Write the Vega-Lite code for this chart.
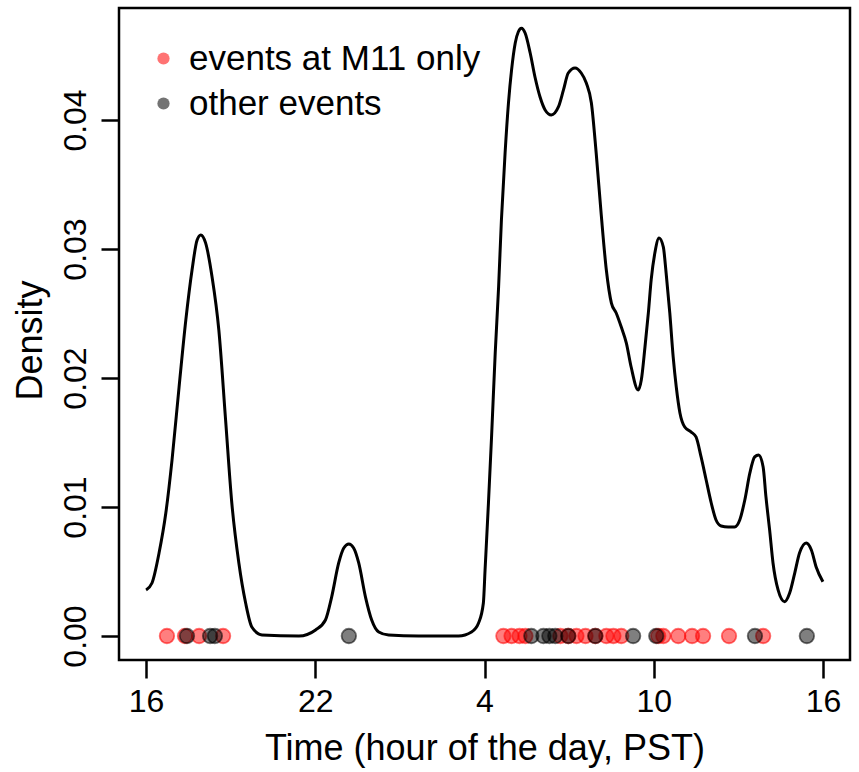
{
  "$schema": "https://vega.github.io/schema/vega-lite/v6.json",
  "autosize": {"type": "none"},
  "width": 731,
  "height": 652,
  "padding": {"left": 119, "top": 8, "right": 9, "bottom": 112},
  "background": "white",
  "config": {
    "view": {"stroke": "black", "strokeWidth": 2.5},
    "font": "Liberation Sans",
    "axis": {
      "grid": false,
      "domain": false,
      "tickColor": "black",
      "tickWidth": 2.5,
      "tickSize": 18,
      "labelColor": "black",
      "titleColor": "black",
      "labelFont": "Liberation Sans",
      "titleFont": "Liberation Sans",
      "labelFontSize": 32,
      "titleFontSize": 36,
      "titleFontWeight": "normal"
    }
  },
  "datasets": {
    "curve": [
      {"h": 0.0, "d": 0.00357}, {"h": 0.21, "d": 0.00411}, {"h": 0.46, "d": 0.00643}, {"h": 0.70, "d": 0.00953},
      {"h": 0.92, "d": 0.01364}, {"h": 1.17, "d": 0.0193}, {"h": 1.41, "d": 0.0245}, {"h": 1.63, "d": 0.02837},
      {"h": 1.81, "d": 0.0307}, {"h": 1.94, "d": 0.03109}, {"h": 2.11, "d": 0.03047}, {"h": 2.34, "d": 0.02783},
      {"h": 2.58, "d": 0.02372}, {"h": 2.82, "d": 0.01674}, {"h": 3.04, "d": 0.01031}, {"h": 3.29, "d": 0.00566},
      {"h": 3.53, "d": 0.00256}, {"h": 3.75, "d": 0.0007}, {"h": 4.11, "d": 0.00008}, {"h": 5.42, "d": 0.0},
      {"h": 6.01, "d": 0.00047}, {"h": 6.36, "d": 0.00124}, {"h": 6.58, "d": 0.00302}, {"h": 6.83, "d": 0.00566},
      {"h": 7.01, "d": 0.00682}, {"h": 7.19, "d": 0.00713}, {"h": 7.36, "d": 0.00682}, {"h": 7.54, "d": 0.00566},
      {"h": 7.78, "d": 0.00302}, {"h": 8.0, "d": 0.00124}, {"h": 8.25, "d": 0.00031}, {"h": 8.6, "d": 0.00008},
      {"h": 9.66, "d": 0.0}, {"h": 11.08, "d": 0.0}, {"h": 11.54, "d": 0.00031}, {"h": 11.79, "d": 0.00101},
      {"h": 11.96, "d": 0.00256}, {"h": 12.02, "d": 0.00512}, {"h": 12.14, "d": 0.01031}, {"h": 12.25, "d": 0.01543},
      {"h": 12.38, "d": 0.02194}, {"h": 12.5, "d": 0.02705}, {"h": 12.6, "d": 0.03225}, {"h": 12.73, "d": 0.03744},
      {"h": 12.85, "d": 0.04132}, {"h": 12.96, "d": 0.04388}, {"h": 13.09, "d": 0.04597}, {"h": 13.2, "d": 0.04684},
      {"h": 13.31, "d": 0.04711}, {"h": 13.44, "d": 0.04674}, {"h": 13.62, "d": 0.04519}, {"h": 13.79, "d": 0.04333},
      {"h": 13.97, "d": 0.04178}, {"h": 14.15, "d": 0.04078}, {"h": 14.37, "d": 0.04039}, {"h": 14.62, "d": 0.04101},
      {"h": 14.8, "d": 0.04233}, {"h": 14.97, "d": 0.04364}, {"h": 15.21, "d": 0.04403}, {"h": 15.43, "d": 0.04364},
      {"h": 15.61, "d": 0.04287}, {"h": 15.79, "d": 0.04132}, {"h": 15.96, "d": 0.03744}, {"h": 16.14, "d": 0.03264},
      {"h": 16.32, "d": 0.02837}, {"h": 16.5, "d": 0.02581}, {"h": 16.67, "d": 0.02504}, {"h": 16.85, "d": 0.02395},
      {"h": 17.03, "d": 0.02271}, {"h": 17.2, "d": 0.02085}, {"h": 17.45, "d": 0.01907}, {"h": 17.56, "d": 0.01984},
      {"h": 17.69, "d": 0.0224}, {"h": 17.81, "d": 0.02504}, {"h": 17.91, "d": 0.0276}, {"h": 18.04, "d": 0.02969},
      {"h": 18.19, "d": 0.03085}, {"h": 18.34, "d": 0.03016}, {"h": 18.44, "d": 0.02814}, {"h": 18.57, "d": 0.02504},
      {"h": 18.69, "d": 0.02163}, {"h": 18.8, "d": 0.0193}, {"h": 18.93, "d": 0.01729}, {"h": 19.1, "d": 0.0162},
      {"h": 19.33, "d": 0.01581}, {"h": 19.5, "d": 0.01543}, {"h": 19.68, "d": 0.01388}, {"h": 19.86, "d": 0.01209},
      {"h": 20.04, "d": 0.01031}, {"h": 20.21, "d": 0.00899}, {"h": 20.39, "d": 0.00853}, {"h": 20.64, "d": 0.00845},
      {"h": 20.87, "d": 0.00845}, {"h": 21.05, "d": 0.00899}, {"h": 21.23, "d": 0.01054}, {"h": 21.41, "d": 0.01264},
      {"h": 21.58, "d": 0.01388}, {"h": 21.72, "d": 0.01403}, {"h": 21.88, "d": 0.0131}, {"h": 21.98, "d": 0.01078},
      {"h": 22.11, "d": 0.00822}, {"h": 22.23, "d": 0.00566}, {"h": 22.41, "d": 0.00357}, {"h": 22.64, "d": 0.00266},
      {"h": 22.82, "d": 0.00333}, {"h": 23.0, "d": 0.00488}, {"h": 23.17, "d": 0.00643}, {"h": 23.41, "d": 0.00721},
      {"h": 23.59, "d": 0.00667}, {"h": 23.76, "d": 0.00535}, {"h": 24.0, "d": 0.0042}
    ],
    "events": [
      {"h": 0.74, "d": 0, "type": "events at M11 only"},
      {"h": 1.38, "d": 0, "type": "events at M11 only"},
      {"h": 1.88, "d": 0, "type": "events at M11 only"},
      {"h": 2.73, "d": 0, "type": "events at M11 only"},
      {"h": 12.67, "d": 0, "type": "events at M11 only"},
      {"h": 12.96, "d": 0, "type": "events at M11 only"},
      {"h": 13.24, "d": 0, "type": "events at M11 only"},
      {"h": 13.45, "d": 0, "type": "events at M11 only"},
      {"h": 14.69, "d": 0, "type": "events at M11 only"},
      {"h": 14.97, "d": 0, "type": "events at M11 only"},
      {"h": 15.26, "d": 0, "type": "events at M11 only"},
      {"h": 15.58, "d": 0, "type": "events at M11 only"},
      {"h": 15.93, "d": 0, "type": "events at M11 only"},
      {"h": 16.32, "d": 0, "type": "events at M11 only"},
      {"h": 16.57, "d": 0, "type": "events at M11 only"},
      {"h": 16.85, "d": 0, "type": "events at M11 only"},
      {"h": 18.16, "d": 0, "type": "events at M11 only"},
      {"h": 18.34, "d": 0, "type": "events at M11 only"},
      {"h": 18.87, "d": 0, "type": "events at M11 only"},
      {"h": 19.36, "d": 0, "type": "events at M11 only"},
      {"h": 19.75, "d": 0, "type": "events at M11 only"},
      {"h": 20.67, "d": 0, "type": "events at M11 only"},
      {"h": 21.88, "d": 0, "type": "events at M11 only"},
      {"h": 1.45, "d": 0, "type": "other events"},
      {"h": 2.27, "d": 0, "type": "other events"},
      {"h": 2.44, "d": 0, "type": "other events"},
      {"h": 7.19, "d": 0, "type": "other events"},
      {"h": 13.66, "d": 0, "type": "other events"},
      {"h": 14.09, "d": 0, "type": "other events"},
      {"h": 14.3, "d": 0, "type": "other events"},
      {"h": 14.51, "d": 0, "type": "other events"},
      {"h": 14.97, "d": 0, "type": "other events"},
      {"h": 15.93, "d": 0, "type": "other events"},
      {"h": 17.27, "d": 0, "type": "other events"},
      {"h": 18.09, "d": 0, "type": "other events"},
      {"h": 21.59, "d": 0, "type": "other events"},
      {"h": 23.43, "d": 0, "type": "other events"}
    ]
  },
  "layer": [
    {
      "data": {"name": "curve"},
      "mark": {"type": "line", "color": "black", "strokeWidth": 3, "interpolate": "monotone"},
      "encoding": {
        "x": {
          "field": "h", "type": "quantitative",
          "scale": {"domain": [-0.96, 24.96], "nice": false, "zero": false},
          "axis": {
            "title": "Time (hour of the day, PST)",
            "values": [0, 6, 12, 18, 24],
            "labelExpr": "datum.value == 0 ? '16' : datum.value == 6 ? '22' : datum.value == 12 ? '4' : datum.value == 18 ? '10' : '16'",
            "labelBaseline": "alphabetic",
            "labelPadding": 33,
            "labelFlush": false,
            "titleBaseline": "alphabetic",
            "titleY": 99
          }
        },
        "y": {
          "field": "d", "type": "quantitative",
          "scale": {"domain": [-0.00186, 0.04868], "nice": false, "zero": false},
          "axis": {
            "title": "Density",
            "values": [0, 0.01, 0.02, 0.03, 0.04],
            "format": ".2f",
            "labelAngle": -90,
            "labelAlign": "center",
            "labelBaseline": "alphabetic",
            "labelPadding": 16,
            "labelFlush": false,
            "titleAngle": -90,
            "titleBaseline": "alphabetic",
            "titleAlign": "center",
            "titleX": -78,
            "titleY": 332
          }
        }
      }
    },
    {
      "data": {"name": "events"},
      "mark": {"type": "point", "shape": "circle", "filled": true, "size": 210, "fillOpacity": 0.5, "strokeOpacity": 0.55, "strokeWidth": 1.8},
      "encoding": {
        "x": {"field": "h", "type": "quantitative"},
        "y": {"field": "d", "type": "quantitative"},
        "color": {
          "field": "type", "type": "nominal",
          "scale": {"domain": ["events at M11 only", "other events"], "range": ["#FF0000", "#000000"]},
          "legend": {
            "title": null,
            "orient": "none",
            "legendX": 27,
            "legendY": 33,
            "padding": 0,
            "symbolType": "circle",
            "symbolSize": 150,
            "symbolOpacity": 0.55,
            "symbolStrokeWidth": 0,
            "labelFontSize": 35,
            "labelFont": "Liberation Sans",
            "labelColor": "black",
            "labelOffset": 8,
            "rowPadding": 9,
            "labelLimit": 500
          }
        },
        "stroke": {
          "field": "type", "type": "nominal",
          "scale": {"domain": ["events at M11 only", "other events"], "range": ["#FF0000", "#000000"]},
          "legend": null
        }
      }
    }
  ]
}
